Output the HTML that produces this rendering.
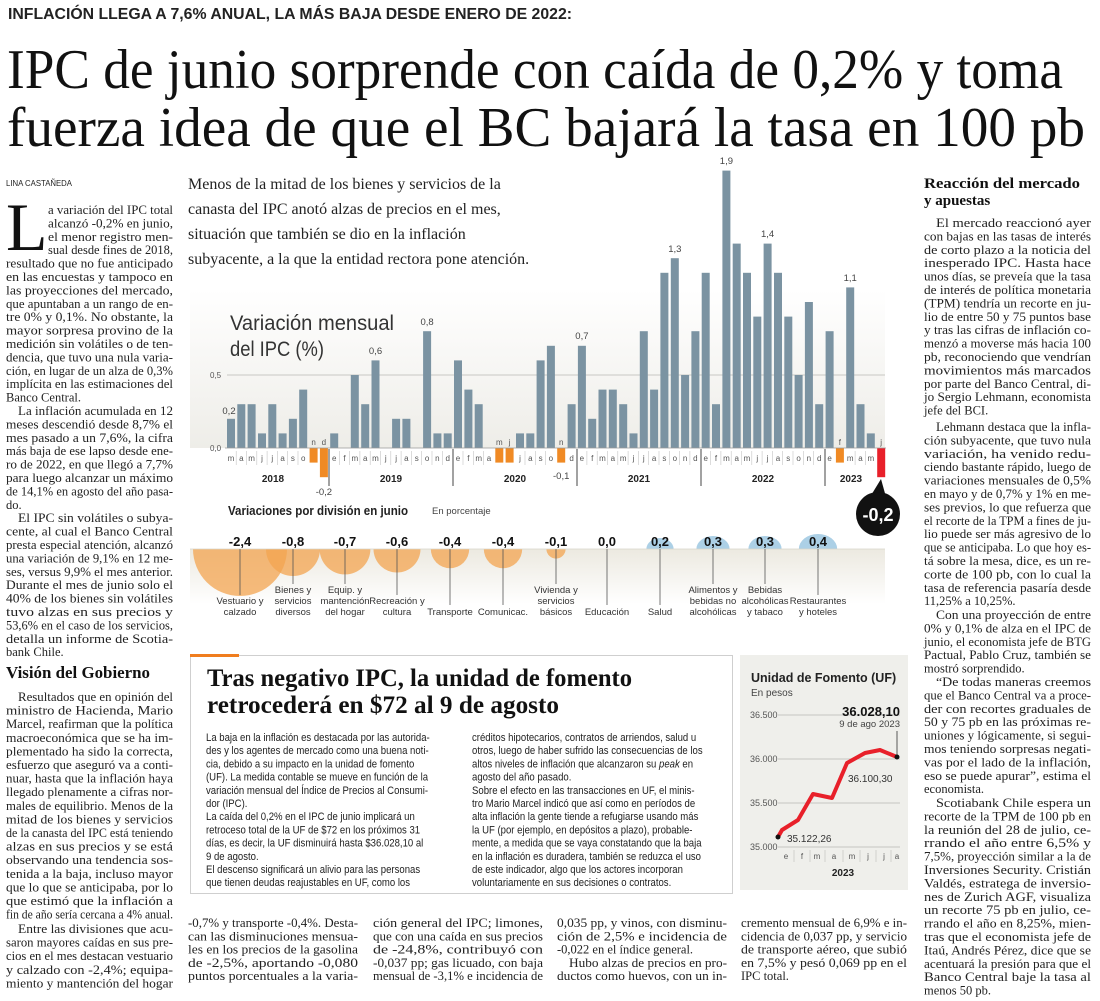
<!DOCTYPE html>
<html><head><meta charset="utf-8"><style>
html,body{margin:0;padding:0;background:#fff;}
svg{display:block}
.b{font-family:"Liberation Serif",serif;font-size:12.5px;fill:#222}
.h{font-family:"Liberation Serif",serif;font-weight:bold}
.s{font-family:"Liberation Sans",sans-serif}
.m{font-family:"Liberation Sans",sans-serif;font-size:8px;fill:#555;text-anchor:middle}
.v{font-family:"Liberation Sans",sans-serif;font-size:9.5px;fill:#444;text-anchor:middle}
.cat{font-family:"Liberation Sans",sans-serif;font-size:9.5px;fill:#333;text-anchor:middle}
.bv{font-family:"Liberation Sans",sans-serif;font-size:13px;font-weight:bold;fill:#111;text-anchor:middle}
.a{font-family:"Liberation Sans",sans-serif;font-size:11px;fill:#222}
</style></head><body>
<svg width="1100" height="1001" viewBox="0 0 1100 1001" xmlns="http://www.w3.org/2000/svg">
<defs>
<linearGradient id="pg" x1="0" y1="0" x2="0" y2="1"><stop offset="0" stop-color="#fff"/><stop offset="1" stop-color="#eeede8"/></linearGradient>
<linearGradient id="bg2" x1="0" y1="0" x2="0" y2="1"><stop offset="0" stop-color="#ece9e0"/><stop offset="1" stop-color="#fff"/></linearGradient>
</defs>

<!-- Kicker & headline -->
<text x="8" y="19" class="s" font-size="16" font-weight="bold" textLength="564" lengthAdjust="spacingAndGlyphs" fill="#222">INFLACIÓN LLEGA A 7,6% ANUAL, LA MÁS BAJA DESDE ENERO DE 2022:</text>
<text x="7" y="88" font-family="Liberation Serif,serif" font-size="56" textLength="1056" lengthAdjust="spacingAndGlyphs" fill="#111">IPC de junio sorprende con caída de 0,2% y toma</text>
<text x="7" y="146" font-family="Liberation Serif,serif" font-size="56" textLength="1078" lengthAdjust="spacingAndGlyphs" fill="#111">fuerza idea de que el BC bajará la tasa en 100 pb</text>

<!-- Left column -->
<text x="6" y="186" class="s" font-size="8.5" fill="#222" textLength="66" lengthAdjust="spacingAndGlyphs">LINA CASTAÑEDA</text>
<text x="6" y="250" font-family="Liberation Serif,serif" font-size="68" fill="#111">L</text>
<g class="b">
<text x="48" y="214" textLength="125" lengthAdjust="spacingAndGlyphs">a variación del IPC total</text>
<text x="48" y="227.4" textLength="125" lengthAdjust="spacingAndGlyphs">alcanzó -0,2% en junio,</text>
<text x="48" y="240.8" textLength="125" lengthAdjust="spacingAndGlyphs">el menor registro men-</text>
<text x="48" y="254.2" textLength="125" lengthAdjust="spacingAndGlyphs">sual desde fines de 2018,</text>
<text x="6" y="267.6" textLength="167" lengthAdjust="spacingAndGlyphs">resultado que no fue anticipado</text>
<text x="6" y="281" textLength="167" lengthAdjust="spacingAndGlyphs">en las encuestas y tampoco en</text>
<text x="6" y="294.4" textLength="167" lengthAdjust="spacingAndGlyphs">las proyecciones del mercado,</text>
<text x="6" y="307.8" textLength="167" lengthAdjust="spacingAndGlyphs">que apuntaban a un rango de en-</text>
<text x="6" y="321.2" textLength="167" lengthAdjust="spacingAndGlyphs">tre 0% y 0,1%. No obstante, la</text>
<text x="6" y="334.6" textLength="167" lengthAdjust="spacingAndGlyphs">mayor sorpresa provino de la</text>
<text x="6" y="348" textLength="167" lengthAdjust="spacingAndGlyphs">medición sin volátiles o de ten-</text>
<text x="6" y="361.4" textLength="167" lengthAdjust="spacingAndGlyphs">dencia, que tuvo una nula varia-</text>
<text x="6" y="374.8" textLength="167" lengthAdjust="spacingAndGlyphs">ción, en lugar de un alza de 0,3%</text>
<text x="6" y="388.2" textLength="167" lengthAdjust="spacingAndGlyphs">implícita en las estimaciones del</text>
<text x="6" y="401.6">Banco Central.</text>
<text x="18" y="415" textLength="155" lengthAdjust="spacingAndGlyphs">La inflación acumulada en 12</text>
<text x="6" y="428.4" textLength="167" lengthAdjust="spacingAndGlyphs">meses descendió desde 8,7% el</text>
<text x="6" y="441.8" textLength="167" lengthAdjust="spacingAndGlyphs">mes pasado a un 7,6%, la cifra</text>
<text x="6" y="455.2" textLength="167" lengthAdjust="spacingAndGlyphs">más baja de ese lapso desde ene-</text>
<text x="6" y="468.6" textLength="167" lengthAdjust="spacingAndGlyphs">ro de 2022, en que llegó a 7,7%</text>
<text x="6" y="482" textLength="167" lengthAdjust="spacingAndGlyphs">para luego alcanzar un máximo</text>
<text x="6" y="495.4" textLength="167" lengthAdjust="spacingAndGlyphs">de 14,1% en agosto del año pasa-</text>
<text x="6" y="508.8">do.</text>
<text x="18" y="522.2" textLength="155" lengthAdjust="spacingAndGlyphs">El IPC sin volátiles o subya-</text>
<text x="6" y="535.6" textLength="167" lengthAdjust="spacingAndGlyphs">cente, al cual el Banco Central</text>
<text x="6" y="549" textLength="167" lengthAdjust="spacingAndGlyphs">presta especial atención, alcanzó</text>
<text x="6" y="562.4" textLength="167" lengthAdjust="spacingAndGlyphs">una variación de 9,1% en 12 me-</text>
<text x="6" y="575.8" textLength="167" lengthAdjust="spacingAndGlyphs">ses, versus 9,9% el mes anterior.</text>
<text x="6" y="589.2" textLength="167" lengthAdjust="spacingAndGlyphs">Durante el mes de junio solo el</text>
<text x="6" y="602.6" textLength="167" lengthAdjust="spacingAndGlyphs">40% de los bienes sin volátiles</text>
<text x="6" y="616" textLength="167" lengthAdjust="spacingAndGlyphs">tuvo alzas en sus precios y</text>
<text x="6" y="629.4" textLength="167" lengthAdjust="spacingAndGlyphs">53,6% en el caso de los servicios,</text>
<text x="6" y="642.8" textLength="167" lengthAdjust="spacingAndGlyphs">detalla un informe de Scotia-</text>
<text x="6" y="656.2">bank Chile.</text>
</g>
<text x="6" y="678" class="h" font-size="17" fill="#111" textLength="144" lengthAdjust="spacingAndGlyphs">Visión del Gobierno</text>
<g class="b">
<text x="18" y="701" textLength="155" lengthAdjust="spacingAndGlyphs">Resultados que en opinión del</text>
<text x="6" y="714.6" textLength="167" lengthAdjust="spacingAndGlyphs">ministro de Hacienda, Mario</text>
<text x="6" y="728.2" textLength="167" lengthAdjust="spacingAndGlyphs">Marcel, reafirman que la política</text>
<text x="6" y="741.8" textLength="167" lengthAdjust="spacingAndGlyphs">macroeconómica que se ha im-</text>
<text x="6" y="755.4" textLength="167" lengthAdjust="spacingAndGlyphs">plementado ha sido la correcta,</text>
<text x="6" y="769" textLength="167" lengthAdjust="spacingAndGlyphs">esfuerzo que aseguró va a conti-</text>
<text x="6" y="782.6" textLength="167" lengthAdjust="spacingAndGlyphs">nuar, hasta que la inflación haya</text>
<text x="6" y="796.2" textLength="167" lengthAdjust="spacingAndGlyphs">llegado plenamente a cifras nor-</text>
<text x="6" y="809.8" textLength="167" lengthAdjust="spacingAndGlyphs">males de equilibrio. Menos de la</text>
<text x="6" y="823.4" textLength="167" lengthAdjust="spacingAndGlyphs">mitad de los bienes y servicios</text>
<text x="6" y="837" textLength="167" lengthAdjust="spacingAndGlyphs">de la canasta del IPC está teniendo</text>
<text x="6" y="850.6" textLength="167" lengthAdjust="spacingAndGlyphs">alzas en sus precios y se está</text>
<text x="6" y="864.2" textLength="167" lengthAdjust="spacingAndGlyphs">observando una tendencia sos-</text>
<text x="6" y="877.8" textLength="167" lengthAdjust="spacingAndGlyphs">tenida a la baja, incluso mayor</text>
<text x="6" y="891.4" textLength="167" lengthAdjust="spacingAndGlyphs">que lo que se anticipaba, por lo</text>
<text x="6" y="905" textLength="167" lengthAdjust="spacingAndGlyphs">que estimó que la inflación a</text>
<text x="6" y="918.6" textLength="167" lengthAdjust="spacingAndGlyphs">fin de año sería cercana a 4% anual.</text>
<text x="18" y="933" textLength="155" lengthAdjust="spacingAndGlyphs">Entre las divisiones que acu-</text>
<text x="6" y="946.6" textLength="167" lengthAdjust="spacingAndGlyphs">saron mayores caídas en sus pre-</text>
<text x="6" y="960.2" textLength="167" lengthAdjust="spacingAndGlyphs">cios en el mes destacan vestuario</text>
<text x="6" y="973.8" textLength="167" lengthAdjust="spacingAndGlyphs">y calzado con -2,4%; equipa-</text>
<text x="6" y="987.4" textLength="167" lengthAdjust="spacingAndGlyphs">miento y mantención del hogar</text>
</g>

<!-- Intro text -->
<g font-family="Liberation Serif,serif" font-size="16" fill="#222">
<text x="188" y="189">Menos de la mitad de los bienes y servicios de la</text>
<text x="188" y="214">canasta del IPC anotó alzas de precios en el mes,</text>
<text x="188" y="239">situación que también se dio en la inflación</text>
<text x="188" y="264">subyacente, a la que la entidad rectora pone atención.</text>
</g>

<!-- Chart panel -->
<rect x="190" y="290" width="695" height="158" fill="url(#pg)"/>
<line x1="227" y1="375" x2="885" y2="375" stroke="#c8c8c4" stroke-width="1"/>
<text x="210" y="378" class="s" font-size="8" fill="#555">0,5</text>
<text x="210" y="451" class="s" font-size="8" fill="#555">0,0</text>
<text x="230" y="330" class="s" font-size="21" fill="#333" textLength="164" lengthAdjust="spacingAndGlyphs">Variación mensual</text>
<text x="230" y="356" class="s" font-size="21" fill="#333" textLength="94" lengthAdjust="spacingAndGlyphs">del IPC (%)</text>

<g fill="#7b93a2">
<rect x="227" y="418.8" width="8" height="29.2"/>
<rect x="237.3" y="404.2" width="8" height="43.8"/>
<rect x="247.6" y="404.2" width="8" height="43.8"/>
<rect x="258" y="433.4" width="8" height="14.6"/>
<rect x="268.3" y="404.2" width="8" height="43.8"/>
<rect x="278.6" y="433.4" width="8" height="14.6"/>
<rect x="288.9" y="418.8" width="8" height="29.2"/>
<rect x="299.2" y="389.6" width="8" height="58.4"/>
<rect x="330.2" y="433.4" width="8" height="14.6"/>
<rect x="350.8" y="375" width="8" height="73"/>
<rect x="361.2" y="404.2" width="8" height="43.8"/>
<rect x="371.5" y="360.4" width="8" height="87.6"/>
<rect x="392.1" y="418.8" width="8" height="29.2"/>
<rect x="402.4" y="418.8" width="8" height="29.2"/>
<rect x="423.1" y="331.2" width="8" height="116.8"/>
<rect x="433.4" y="433.4" width="8" height="14.6"/>
<rect x="443.7" y="433.4" width="8" height="14.6"/>
<rect x="454" y="360.4" width="8" height="87.6"/>
<rect x="464.4" y="389.6" width="8" height="58.4"/>
<rect x="474.7" y="404.2" width="8" height="43.8"/>
<rect x="516" y="433.4" width="8" height="14.6"/>
<rect x="526.3" y="433.4" width="8" height="14.6"/>
<rect x="536.6" y="360.4" width="8" height="87.6"/>
<rect x="546.9" y="345.8" width="8" height="102.2"/>
<rect x="567.6" y="404.2" width="8" height="43.8"/>
<rect x="577.9" y="345.8" width="8" height="102.2"/>
<rect x="588.2" y="418.8" width="8" height="29.2"/>
<rect x="598.5" y="389.6" width="8" height="58.4"/>
<rect x="608.8" y="389.6" width="8" height="58.4"/>
<rect x="619.2" y="404.2" width="8" height="43.8"/>
<rect x="629.5" y="433.4" width="8" height="14.6"/>
<rect x="639.8" y="331.2" width="8" height="116.8"/>
<rect x="650.1" y="389.6" width="8" height="58.4"/>
<rect x="660.4" y="272.8" width="8" height="175.2"/>
<rect x="670.8" y="258.2" width="8" height="189.8"/>
<rect x="681.1" y="375" width="8" height="73"/>
<rect x="691.4" y="331.2" width="8" height="116.8"/>
<rect x="701.7" y="272.8" width="8" height="175.2"/>
<rect x="712" y="404.2" width="8" height="43.8"/>
<rect x="722.4" y="170.6" width="8" height="277.4"/>
<rect x="732.7" y="243.6" width="8" height="204.4"/>
<rect x="743" y="272.8" width="8" height="175.2"/>
<rect x="753.3" y="316.6" width="8" height="131.4"/>
<rect x="763.6" y="243.6" width="8" height="204.4"/>
<rect x="774" y="272.8" width="8" height="175.2"/>
<rect x="784.3" y="316.6" width="8" height="131.4"/>
<rect x="794.6" y="375" width="8" height="73"/>
<rect x="804.9" y="302" width="8" height="146"/>
<rect x="815.2" y="404.2" width="8" height="43.8"/>
<rect x="825.6" y="331.2" width="8" height="116.8"/>
<rect x="846.2" y="287.4" width="8" height="160.6"/>
<rect x="856.5" y="404.2" width="8" height="43.8"/>
<rect x="866.8" y="433.4" width="8" height="14.6"/>
</g>
<g fill="#f08a24">
<rect x="309.6" y="448" width="8" height="14.6"/>
<rect x="319.9" y="448" width="8" height="29.2"/>
<rect x="495.3" y="448" width="8" height="14.6"/>
<rect x="505.6" y="448" width="8" height="14.6"/>
<rect x="557.2" y="448" width="8" height="14.6"/>
<rect x="835.9" y="448" width="8" height="14.6"/>
</g>
<rect x="877.2" y="448" width="8" height="29.2" fill="#e8202a"/>
<line x1="225" y1="448" x2="886" y2="448" stroke="#999" stroke-width="0.8"/>

<!-- value labels -->
<g class="v">
<text x="229" y="414">0,2</text>
<text x="375.5" y="354">0,6</text>
<text x="427.1" y="325">0,8</text>
<text x="581.9" y="339">0,7</text>
<text x="674.8" y="252">1,3</text>
<text x="726.4" y="164">1,9</text>
<text x="767.6" y="237">1,4</text>
<text x="850.2" y="281">1,1</text>
<text x="323.9" y="495">-0,2</text>
<text x="561.2" y="479">-0,1</text>
</g>

<!-- month letters -->
<g class="m">
<text x="231" y="461">m</text><text x="241.3" y="461">a</text><text x="251.6" y="461">m</text><text x="262" y="461">j</text><text x="272.3" y="461">j</text><text x="282.6" y="461">a</text><text x="292.9" y="461">s</text><text x="303.2" y="461">o</text>
<text x="313.6" y="445">n</text><text x="323.9" y="445">d</text>
<text x="334.2" y="461">e</text><text x="344.5" y="461">f</text><text x="354.8" y="461">m</text><text x="365.2" y="461">a</text><text x="375.5" y="461">m</text><text x="385.8" y="461">j</text><text x="396.1" y="461">j</text><text x="406.4" y="461">a</text><text x="416.8" y="461">s</text><text x="427.1" y="461">o</text><text x="437.4" y="461">n</text><text x="447.7" y="461">d</text>
<text x="458" y="461">e</text><text x="468.4" y="461">f</text><text x="478.7" y="461">m</text><text x="489" y="461">a</text>
<text x="499.3" y="445">m</text><text x="509.6" y="445">j</text>
<text x="520" y="461">j</text><text x="530.3" y="461">a</text><text x="540.6" y="461">s</text><text x="550.9" y="461">o</text>
<text x="561.2" y="445">n</text>
<text x="571.6" y="461">d</text>
<text x="581.9" y="461">e</text><text x="592.2" y="461">f</text><text x="602.5" y="461">m</text><text x="612.8" y="461">a</text><text x="623.2" y="461">m</text><text x="633.5" y="461">j</text><text x="643.8" y="461">j</text><text x="654.1" y="461">a</text><text x="664.4" y="461">s</text><text x="674.8" y="461">o</text><text x="685.1" y="461">n</text><text x="695.4" y="461">d</text>
<text x="705.7" y="461">e</text><text x="716" y="461">f</text><text x="726.4" y="461">m</text><text x="736.7" y="461">a</text><text x="747" y="461">m</text><text x="757.3" y="461">j</text><text x="767.6" y="461">j</text><text x="778" y="461">a</text><text x="788.3" y="461">s</text><text x="798.6" y="461">o</text><text x="808.9" y="461">n</text><text x="819.2" y="461">d</text>
<text x="829.6" y="461">e</text>
<text x="839.9" y="445">f</text>
<text x="850.2" y="461">m</text><text x="860.5" y="461">a</text><text x="870.8" y="461">m</text>
<text x="881.2" y="445">j</text>
</g>
<g stroke="#c4c4c4" stroke-width="0.6">
<line x1="236.2" y1="451" x2="236.2" y2="465"/><line x1="246.5" y1="451" x2="246.5" y2="465"/><line x1="256.8" y1="451" x2="256.8" y2="465"/><line x1="267.1" y1="451" x2="267.1" y2="465"/><line x1="277.4" y1="451" x2="277.4" y2="465"/><line x1="287.7" y1="451" x2="287.7" y2="465"/><line x1="298" y1="451" x2="298" y2="465"/><line x1="339.3" y1="451" x2="339.3" y2="465"/><line x1="349.6" y1="451" x2="349.6" y2="465"/><line x1="359.9" y1="451" x2="359.9" y2="465"/><line x1="370.2" y1="451" x2="370.2" y2="465"/><line x1="380.5" y1="451" x2="380.5" y2="465"/><line x1="390.8" y1="451" x2="390.8" y2="465"/><line x1="401.1" y1="451" x2="401.1" y2="465"/><line x1="411.4" y1="451" x2="411.4" y2="465"/><line x1="421.7" y1="451" x2="421.7" y2="465"/><line x1="432" y1="451" x2="432" y2="465"/><line x1="442.3" y1="451" x2="442.3" y2="465"/><line x1="463" y1="451" x2="463" y2="465"/><line x1="473.3" y1="451" x2="473.3" y2="465"/><line x1="483.6" y1="451" x2="483.6" y2="465"/><line x1="525" y1="451" x2="525" y2="465"/><line x1="535.3" y1="451" x2="535.3" y2="465"/><line x1="545.6" y1="451" x2="545.6" y2="465"/><line x1="586.9" y1="451" x2="586.9" y2="465"/><line x1="597.2" y1="451" x2="597.2" y2="465"/><line x1="607.5" y1="451" x2="607.5" y2="465"/><line x1="617.8" y1="451" x2="617.8" y2="465"/><line x1="628.1" y1="451" x2="628.1" y2="465"/><line x1="638.4" y1="451" x2="638.4" y2="465"/><line x1="648.7" y1="451" x2="648.7" y2="465"/><line x1="659" y1="451" x2="659" y2="465"/><line x1="669.3" y1="451" x2="669.3" y2="465"/><line x1="679.6" y1="451" x2="679.6" y2="465"/><line x1="689.9" y1="451" x2="689.9" y2="465"/><line x1="710.6" y1="451" x2="710.6" y2="465"/><line x1="720.9" y1="451" x2="720.9" y2="465"/><line x1="731.2" y1="451" x2="731.2" y2="465"/><line x1="741.5" y1="451" x2="741.5" y2="465"/><line x1="751.8" y1="451" x2="751.8" y2="465"/><line x1="762.1" y1="451" x2="762.1" y2="465"/><line x1="772.4" y1="451" x2="772.4" y2="465"/><line x1="782.7" y1="451" x2="782.7" y2="465"/><line x1="793" y1="451" x2="793" y2="465"/><line x1="803.3" y1="451" x2="803.3" y2="465"/><line x1="813.6" y1="451" x2="813.6" y2="465"/><line x1="855.1" y1="451" x2="855.1" y2="465"/><line x1="865.4" y1="451" x2="865.4" y2="465"/>
</g>
<g stroke="#444" stroke-width="1">
<line x1="329" y1="449" x2="329" y2="486"/><line x1="453" y1="449" x2="453" y2="486"/><line x1="577" y1="449" x2="577" y2="486"/><line x1="701" y1="449" x2="701" y2="486"/><line x1="825" y1="449" x2="825" y2="486"/>
</g>
<g class="s" font-size="10" font-weight="bold" text-anchor="middle" fill="#222">
<text x="273" y="482">2018</text><text x="391" y="482">2019</text><text x="515" y="482">2020</text><text x="639" y="482">2021</text><text x="763" y="482">2022</text><text x="851" y="482">2023</text>
</g>
<path d="M870,497 L881,479 L886,497 Z" fill="#111"/>
<circle cx="878" cy="514" r="22" fill="#111"/>
<text x="878" y="521" class="s" font-size="18" font-weight="bold" fill="#fff" text-anchor="middle">-0,2</text>

<!-- Bubbles -->
<text x="228" y="515" class="s" font-size="13" font-weight="bold" fill="#222" textLength="180" lengthAdjust="spacingAndGlyphs">Variaciones por división en junio</text>
<text x="432" y="514" class="s" font-size="9.5" fill="#444">En porcentaje</text>
<rect x="190" y="549" width="695" height="55" fill="url(#bg2)"/>
<g fill="#f3a450" fill-opacity="0.75">
<path d="M193,549 A47,47 0 0 0 287,549 Z"/>
<path d="M266,549 A27,27 0 0 0 320,549 Z"/>
<path d="M319.6,549 A25.4,25.4 0 0 0 370.4,549 Z"/>
<path d="M373.5,549 A23.5,23.5 0 0 0 420.5,549 Z"/>
<path d="M430.8,549 A19.2,19.2 0 0 0 469.2,549 Z"/>
<path d="M483.8,549 A19.2,19.2 0 0 0 522.2,549 Z"/>
<path d="M546.4,549 A9.6,9.6 0 0 0 565.6,549 Z"/>
</g>
<g fill="#acd0e6">
<path d="M646.4,549 A13.6,11 0 0 1 673.6,549 Z"/>
<path d="M696.4,549 A16.6,13 0 0 1 729.6,549 Z"/>
<path d="M748.4,549 A16.6,13 0 0 1 781.6,549 Z"/>
<path d="M798.8,549 A19.2,15 0 0 1 837.2,549 Z"/>
</g>
<line x1="190" y1="549" x2="885" y2="549" stroke="#d8d4ca" stroke-width="0.8"/>
<g class="bv">
<text x="240" y="546">-2,4</text><text x="293" y="546">-0,8</text><text x="345" y="546">-0,7</text><text x="397" y="546">-0,6</text><text x="450" y="546">-0,4</text><text x="503" y="546">-0,4</text><text x="556" y="546">-0,1</text><text x="607" y="546">0,0</text><text x="660" y="546">0,2</text><text x="713" y="546">0,3</text><text x="765" y="546">0,3</text><text x="818" y="546">0,4</text>
</g>
<g stroke="#555" stroke-width="0.8">
<line x1="240" y1="549" x2="240" y2="595"/><line x1="293" y1="549" x2="293" y2="584"/><line x1="345" y1="549" x2="345" y2="584"/><line x1="397" y1="549" x2="397" y2="595"/><line x1="450" y1="549" x2="450" y2="605"/><line x1="503" y1="549" x2="503" y2="605"/><line x1="556" y1="549" x2="556" y2="584"/><line x1="607" y1="549" x2="607" y2="605"/><line x1="660" y1="549" x2="660" y2="605"/><line x1="713" y1="549" x2="713" y2="584"/><line x1="765" y1="549" x2="765" y2="584"/><line x1="818" y1="549" x2="818" y2="595"/>
</g>
<g class="cat">
<text x="240" y="604">Vestuario y</text><text x="240" y="615">calzado</text>
<text x="293" y="593">Bienes y</text><text x="293" y="604">servicios</text><text x="293" y="615">diversos</text>
<text x="345" y="593">Equip. y</text><text x="345" y="604">mantención</text><text x="345" y="615">del hogar</text>
<text x="397" y="604">Recreación y</text><text x="397" y="615">cultura</text>
<text x="450" y="615">Transporte</text>
<text x="503" y="615">Comunicac.</text>
<text x="556" y="593">Vivienda y</text><text x="556" y="604">servicios</text><text x="556" y="615">básicos</text>
<text x="607" y="615">Educación</text>
<text x="660" y="615">Salud</text>
<text x="713" y="593">Alimentos y</text><text x="713" y="604">bebidas no</text><text x="713" y="615">alcohólicas</text>
<text x="765" y="593">Bebidas</text><text x="765" y="604">alcohólicas</text><text x="765" y="615">y tabaco</text>
<text x="818" y="604">Restaurantes</text><text x="818" y="615">y hoteles</text>
</g>

<!-- Article box -->
<rect x="190.5" y="655.5" width="542" height="238" fill="none" stroke="#cfcfcf" stroke-width="1"/>
<rect x="190" y="654" width="49" height="3" fill="#f07d1e"/>
<text x="207" y="686" class="h" font-size="25" fill="#111" textLength="425" lengthAdjust="spacingAndGlyphs">Tras negativo IPC, la unidad de fomento</text>
<text x="207" y="713" class="h" font-size="25" fill="#111" textLength="352" lengthAdjust="spacingAndGlyphs">retrocederá en $72 al 9 de agosto</text>
<g class="a" transform="translate(206,0) scale(0.87,1)">
<text x="0" y="741">La baja en la inflación es destacada por las autorida-</text>
<text x="0" y="754.2">des y los agentes de mercado como una buena noti-</text>
<text x="0" y="767.4">cia, debido a su impacto en la unidad de fomento</text>
<text x="0" y="780.6">(UF). La medida contable se mueve en función de la</text>
<text x="0" y="793.8">variación mensual del Índice de Precios al Consumi-</text>
<text x="0" y="807">dor (IPC).</text>
<text x="0" y="820.2">La caída del 0,2% en el IPC de junio implicará un</text>
<text x="0" y="833.4">retroceso total de la UF de $72 en los próximos 31</text>
<text x="0" y="846.6">días, es decir, la UF disminuirá hasta $36.028,10 al</text>
<text x="0" y="859.8">9 de agosto.</text>
<text x="0" y="873">El descenso significará un alivio para las personas</text>
<text x="0" y="886.2">que tienen deudas reajustables en UF, como los</text>
</g>
<g class="a" transform="translate(472,0) scale(0.87,1)">
<text x="0" y="741">créditos hipotecarios, contratos de arriendos, salud u</text>
<text x="0" y="754.2">otros, luego de haber sufrido las consecuencias de los</text>
<text x="0" y="767.4">altos niveles de inflación que alcanzaron su <tspan font-style="italic">peak</tspan> en</text>
<text x="0" y="780.6">agosto del año pasado.</text>
<text x="0" y="793.8">Sobre el efecto en las transacciones en UF, el minis-</text>
<text x="0" y="807">tro Mario Marcel indicó que así como en períodos de</text>
<text x="0" y="820.2">alta inflación la gente tiende a refugiarse usando más</text>
<text x="0" y="833.4">la UF (por ejemplo, en depósitos a plazo), probable-</text>
<text x="0" y="846.6">mente, a medida que se vaya constatando que la baja</text>
<text x="0" y="859.8">en la inflación es duradera, también se reduzca el uso</text>
<text x="0" y="873">de este indicador, algo que los actores incorporan</text>
<text x="0" y="886.2">voluntariamente en sus decisiones o contratos.</text>
</g>

<!-- UF chart -->
<rect x="740" y="655" width="168" height="235" fill="#efefeb"/>
<text x="751" y="682" class="s" font-size="12.5" font-weight="bold" fill="#222">Unidad de Fomento (UF)</text>
<text x="751" y="696" class="s" font-size="10" fill="#444">En pesos</text>
<g stroke="#b8b8b4" stroke-width="0.8">
<line x1="778" y1="715" x2="900" y2="715"/><line x1="778" y1="759" x2="900" y2="759"/><line x1="778" y1="803" x2="900" y2="803"/><line x1="778" y1="847" x2="900" y2="847"/>
</g>
<g class="s" font-size="9" fill="#555">
<text x="750" y="718">36.500</text><text x="750" y="762">36.000</text><text x="750" y="806">35.500</text><text x="750" y="850">35.000</text>
</g>
<text x="900" y="716" class="s" font-size="13" font-weight="bold" fill="#111" text-anchor="end">36.028,10</text>
<text x="900" y="727" class="s" font-size="9.5" fill="#444" text-anchor="end">9 de ago 2023</text>
<line x1="897" y1="731" x2="897" y2="757" stroke="#333" stroke-width="0.8"/>
<polyline points="778,837 782,830 798,820 813,794 832,798 847,763 865,753 880,750 897,757" fill="none" stroke="#e8202a" stroke-width="4" stroke-linejoin="round"/>
<circle cx="778" cy="837" r="2.5" fill="#111"/><circle cx="897" cy="757" r="2.5" fill="#111"/>
<text x="848" y="782" class="s" font-size="10" fill="#333">36.100,30</text>
<text x="787" y="842" class="s" font-size="10" fill="#333">35.122,26</text>
<g class="s" font-size="8" fill="#555" text-anchor="middle">
<text x="786" y="859">e</text><text x="802" y="859">f</text><text x="817" y="859">m</text><text x="834" y="859">a</text><text x="852" y="859">m</text><text x="868" y="859">j</text><text x="884" y="859">j</text><text x="897" y="859">a</text>
</g>
<g stroke="#bbb" stroke-width="0.6">
<line x1="794" y1="850" x2="794" y2="862"/><line x1="810" y1="850" x2="810" y2="862"/><line x1="825" y1="850" x2="825" y2="862"/><line x1="843" y1="850" x2="843" y2="862"/><line x1="860" y1="850" x2="860" y2="862"/><line x1="876" y1="850" x2="876" y2="862"/><line x1="891" y1="850" x2="891" y2="862"/>
</g>
<text x="843" y="876" class="s" font-size="10" font-weight="bold" fill="#222" text-anchor="middle">2023</text>

<!-- Bottom columns -->
<g class="b">
<text x="188" y="927" textLength="170" lengthAdjust="spacingAndGlyphs">-0,7% y transporte -0,4%. Desta-</text>
<text x="188" y="940.3" textLength="170" lengthAdjust="spacingAndGlyphs">can las disminuciones mensua-</text>
<text x="188" y="953.6" textLength="170" lengthAdjust="spacingAndGlyphs">les en los precios de la gasolina</text>
<text x="188" y="966.9" textLength="170" lengthAdjust="spacingAndGlyphs">de -2,5%, aportando -0,080</text>
<text x="188" y="980.2" textLength="170" lengthAdjust="spacingAndGlyphs">puntos porcentuales a la varia-</text>
<text x="373" y="927" textLength="170" lengthAdjust="spacingAndGlyphs">ción general del IPC; limones,</text>
<text x="373" y="940.3" textLength="170" lengthAdjust="spacingAndGlyphs">que con una caída en sus precios</text>
<text x="373" y="953.6" textLength="170" lengthAdjust="spacingAndGlyphs">de -24,8%, contribuyó con</text>
<text x="373" y="966.9" textLength="170" lengthAdjust="spacingAndGlyphs">-0,037 pp; gas licuado, con baja</text>
<text x="373" y="980.2" textLength="170" lengthAdjust="spacingAndGlyphs">mensual de -3,1% e incidencia de</text>
<text x="557" y="927" textLength="170" lengthAdjust="spacingAndGlyphs">0,035 pp, y vinos, con disminu-</text>
<text x="557" y="940.3" textLength="170" lengthAdjust="spacingAndGlyphs">ción de 2,5% e incidencia de</text>
<text x="557" y="953.6">-0,022 en el índice general.</text>
<text x="569" y="966.9" textLength="158" lengthAdjust="spacingAndGlyphs">Hubo alzas de precios en pro-</text>
<text x="557" y="980.2" textLength="170" lengthAdjust="spacingAndGlyphs">ductos como huevos, con un in-</text>
<text x="741" y="927" textLength="166" lengthAdjust="spacingAndGlyphs">cremento mensual de 6,9% e in-</text>
<text x="741" y="940.3" textLength="166" lengthAdjust="spacingAndGlyphs">cidencia de 0,037 pp, y servicio</text>
<text x="741" y="953.6" textLength="166" lengthAdjust="spacingAndGlyphs">de transporte aéreo, que subió</text>
<text x="741" y="966.9" textLength="166" lengthAdjust="spacingAndGlyphs">en 7,5% y pesó 0,069 pp en el</text>
<text x="741" y="980.2">IPC total.</text>
</g>

<!-- Right column -->
<text x="924" y="188" class="h" font-size="15" fill="#111" textLength="156" lengthAdjust="spacingAndGlyphs">Reacción del mercado</text>
<text x="924" y="205" class="h" font-size="15" fill="#111">y apuestas</text>
<g class="b">
<text x="936" y="227" textLength="155" lengthAdjust="spacingAndGlyphs">El mercado reaccionó ayer</text>
<text x="924" y="240.4" textLength="167" lengthAdjust="spacingAndGlyphs">con bajas en las tasas de interés</text>
<text x="924" y="253.8" textLength="167" lengthAdjust="spacingAndGlyphs">de corto plazo a la noticia del</text>
<text x="924" y="267.2" textLength="167" lengthAdjust="spacingAndGlyphs">inesperado IPC. Hasta hace</text>
<text x="924" y="280.6" textLength="167" lengthAdjust="spacingAndGlyphs">unos días, se preveía que la tasa</text>
<text x="924" y="294" textLength="167" lengthAdjust="spacingAndGlyphs">de interés de política monetaria</text>
<text x="924" y="307.4" textLength="167" lengthAdjust="spacingAndGlyphs">(TPM) tendría un recorte en ju-</text>
<text x="924" y="320.8" textLength="167" lengthAdjust="spacingAndGlyphs">lio de entre 50 y 75 puntos base</text>
<text x="924" y="334.2" textLength="167" lengthAdjust="spacingAndGlyphs">y tras las cifras de inflación co-</text>
<text x="924" y="347.6" textLength="167" lengthAdjust="spacingAndGlyphs">menzó a moverse más hacia 100</text>
<text x="924" y="361" textLength="167" lengthAdjust="spacingAndGlyphs">pb, reconociendo que vendrían</text>
<text x="924" y="374.4" textLength="167" lengthAdjust="spacingAndGlyphs">movimientos más marcados</text>
<text x="924" y="387.8" textLength="167" lengthAdjust="spacingAndGlyphs">por parte del Banco Central, di-</text>
<text x="924" y="401.2" textLength="167" lengthAdjust="spacingAndGlyphs">jo Sergio Lehmann, economista</text>
<text x="924" y="414.6">jefe del BCI.</text>
<text x="936" y="431" textLength="155" lengthAdjust="spacingAndGlyphs">Lehmann destaca que la infla-</text>
<text x="924" y="444.4" textLength="167" lengthAdjust="spacingAndGlyphs">ción subyacente, que tuvo nula</text>
<text x="924" y="457.8" textLength="167" lengthAdjust="spacingAndGlyphs">variación, ha venido redu-</text>
<text x="924" y="471.2" textLength="167" lengthAdjust="spacingAndGlyphs">ciendo bastante rápido, luego de</text>
<text x="924" y="484.6" textLength="167" lengthAdjust="spacingAndGlyphs">variaciones mensuales de 0,5%</text>
<text x="924" y="498" textLength="167" lengthAdjust="spacingAndGlyphs">en mayo y de 0,7% y 1% en me-</text>
<text x="924" y="511.4" textLength="167" lengthAdjust="spacingAndGlyphs">ses previos, lo que refuerza que</text>
<text x="924" y="524.8" textLength="167" lengthAdjust="spacingAndGlyphs">el recorte de la TPM a fines de ju-</text>
<text x="924" y="538.2" textLength="167" lengthAdjust="spacingAndGlyphs">lio puede ser más agresivo de lo</text>
<text x="924" y="551.6" textLength="167" lengthAdjust="spacingAndGlyphs">que se anticipaba. Lo que hoy es-</text>
<text x="924" y="565" textLength="167" lengthAdjust="spacingAndGlyphs">tá sobre la mesa, dice, es un re-</text>
<text x="924" y="578.4" textLength="167" lengthAdjust="spacingAndGlyphs">corte de 100 pb, con lo cual la</text>
<text x="924" y="591.8" textLength="167" lengthAdjust="spacingAndGlyphs">tasa de referencia pasaría desde</text>
<text x="924" y="605.2">11,25% a 10,25%.</text>
<text x="936" y="619" textLength="155" lengthAdjust="spacingAndGlyphs">Con una proyección de entre</text>
<text x="924" y="632.4" textLength="167" lengthAdjust="spacingAndGlyphs">0% y 0,1% de alza en el IPC de</text>
<text x="924" y="645.8" textLength="167" lengthAdjust="spacingAndGlyphs">junio, el economista jefe de BTG</text>
<text x="924" y="659.2" textLength="167" lengthAdjust="spacingAndGlyphs">Pactual, Pablo Cruz, también se</text>
<text x="924" y="672.6">mostró sorprendido.</text>
<text x="936" y="686" textLength="155" lengthAdjust="spacingAndGlyphs">“De todas maneras creemos</text>
<text x="924" y="699.4" textLength="167" lengthAdjust="spacingAndGlyphs">que el Banco Central va a proce-</text>
<text x="924" y="712.8" textLength="167" lengthAdjust="spacingAndGlyphs">der con recortes graduales de</text>
<text x="924" y="726.2" textLength="167" lengthAdjust="spacingAndGlyphs">50 y 75 pb en las próximas re-</text>
<text x="924" y="739.6" textLength="167" lengthAdjust="spacingAndGlyphs">uniones y lógicamente, si segui-</text>
<text x="924" y="753" textLength="167" lengthAdjust="spacingAndGlyphs">mos teniendo sorpresas negati-</text>
<text x="924" y="766.4" textLength="167" lengthAdjust="spacingAndGlyphs">vas por el lado de la inflación,</text>
<text x="924" y="779.8" textLength="167" lengthAdjust="spacingAndGlyphs">eso se puede apurar”, estima el</text>
<text x="924" y="793.2">economista.</text>
<text x="936" y="807" textLength="155" lengthAdjust="spacingAndGlyphs">Scotiabank Chile espera un</text>
<text x="924" y="820.4" textLength="167" lengthAdjust="spacingAndGlyphs">recorte de la TPM de 100 pb en</text>
<text x="924" y="833.8" textLength="167" lengthAdjust="spacingAndGlyphs">la reunión del 28 de julio, ce-</text>
<text x="924" y="847.2" textLength="167" lengthAdjust="spacingAndGlyphs">rrando el año entre 6,5% y</text>
<text x="924" y="860.6" textLength="167" lengthAdjust="spacingAndGlyphs">7,5%, proyección similar a la de</text>
<text x="924" y="874" textLength="167" lengthAdjust="spacingAndGlyphs">Inversiones Security. Cristián</text>
<text x="924" y="887.4" textLength="167" lengthAdjust="spacingAndGlyphs">Valdés, estratega de inversio-</text>
<text x="924" y="900.8" textLength="167" lengthAdjust="spacingAndGlyphs">nes de Zurich AGF, visualiza</text>
<text x="924" y="914.2" textLength="167" lengthAdjust="spacingAndGlyphs">un recorte 75 pb en julio, ce-</text>
<text x="924" y="927.6" textLength="167" lengthAdjust="spacingAndGlyphs">rrando el año en 8,25%, mien-</text>
<text x="924" y="941" textLength="167" lengthAdjust="spacingAndGlyphs">tras que el economista jefe de</text>
<text x="924" y="954.4" textLength="167" lengthAdjust="spacingAndGlyphs">Itaú, Andrés Pérez, dice que se</text>
<text x="924" y="967.8" textLength="167" lengthAdjust="spacingAndGlyphs">acentuará la presión para que el</text>
<text x="924" y="981.2" textLength="167" lengthAdjust="spacingAndGlyphs">Banco Central baje la tasa al</text>
<text x="924" y="994.6">menos 50 pb.</text>
</g>
</svg>
</body></html>
